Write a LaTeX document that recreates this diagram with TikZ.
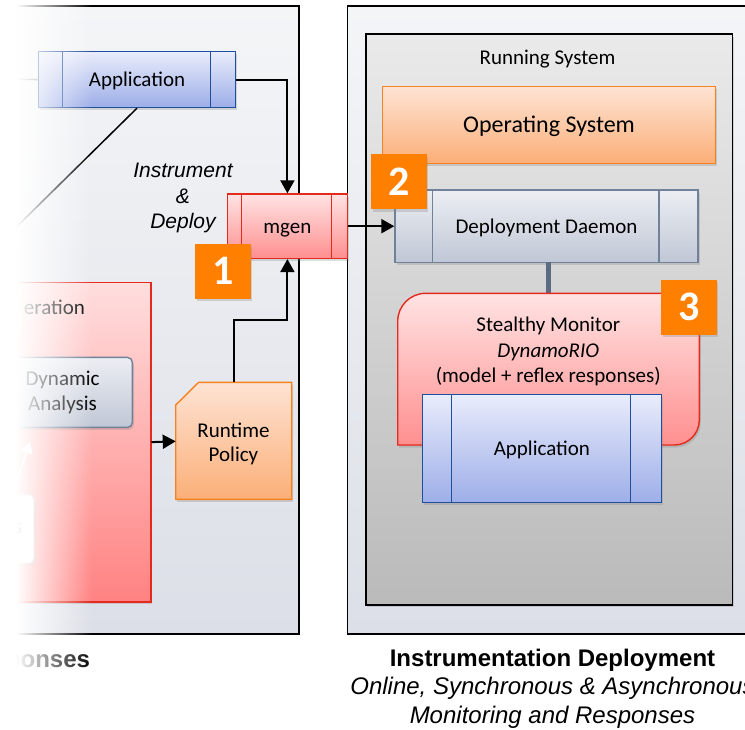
\documentclass[tikz,border=0pt]{standalone}
\usepackage{fontspec}
\setmainfont{Carlito}
\newfontfamily\arialfam{Liberation Sans}
\usetikzlibrary{arrows.meta,shadows,fadings,calc}

\definecolor{panelTop}{HTML}{F4F5F7}
\definecolor{panelBot}{HTML}{DCDFE7}
\definecolor{runTop}{HTML}{EAEAEA}
\definecolor{runBot}{HTML}{BABABA}
\definecolor{blueTop}{HTML}{E9ECFB}
\definecolor{blueBot}{HTML}{9DAEE8}
\definecolor{blueDraw}{HTML}{1F4E9E}
\definecolor{pinkTop}{HTML}{FFE3E3}
\definecolor{pinkBot}{HTML}{FF8F8F}
\definecolor{redDraw}{HTML}{E42A1C}
\definecolor{genTop}{HTML}{FFDEDE}
\definecolor{genBot}{HTML}{FF8282}
\definecolor{orangeTop}{HTML}{FDE3D3}
\definecolor{orangeBot}{HTML}{FBAF78}
\definecolor{orangeDraw}{HTML}{F5821F}
\definecolor{daemonTop}{HTML}{ECEEF3}
\definecolor{daemonBot}{HTML}{C0C7D5}
\definecolor{daemonDraw}{HTML}{72819A}
\definecolor{badgeOrange}{HTML}{FF8000}
\definecolor{linkGray}{HTML}{5B6B82}

\tikzfading[name=whiteleft, left color=transparent!0, right color=transparent!100]

\newcommand\bxfont{\fontsize{21}{25.5}\selectfont}

\begin{document}
\begin{tikzpicture}[x=1pt,y=-1pt,
  shadowed/.style={drop shadow={shadow xshift=1.5pt,shadow yshift=-2.5pt,opacity=0.28}},
  capmid/.style={text height=13.6pt,text depth=0pt},
  boxbase/.style={inner sep=0pt,anchor=north west,font=\bxfont,line width=1.4pt,shadowed},
  bluebox/.style={boxbase,capmid,draw=blueDraw,top color=blueTop,bottom color=blueBot},
  pinkbox/.style={boxbase,capmid,draw=redDraw,top color=pinkTop,bottom color=pinkBot},
  orangebox/.style={boxbase,draw=orangeDraw,top color=orangeTop,bottom color=orangeBot},
  daemonbox/.style={boxbase,capmid,draw=daemonDraw,top color=daemonTop,bottom color=daemonBot},
  panel/.style={draw=black,line width=1.5pt,top color=panelTop,bottom color=panelBot,inner sep=0pt,anchor=north west},
  badge/.style={fill=badgeOrange,text=white,font=\fontsize{42}{42}\selectfont\bfseries,
    minimum width=55.7pt,minimum height=55pt,inner sep=0pt,anchor=north west,shadowed},
  arr/.style={line width=2pt,-{Triangle[width=14pt,length=13pt]}},
  divblue/.style={draw=blueDraw,line width=1.4pt},
  divred/.style={draw=redDraw,line width=1.4pt},
  divgray/.style={draw=daemonDraw,line width=1.4pt}]
\useasboundingbox (0,0) rectangle (745,729);

% ---------- outer panels ----------
\node[panel,minimum width=338.3pt,minimum height=628.3pt] (leftpanel) at (-40,5) {};
\node[panel,minimum width=453.3pt,minimum height=628.3pt] (rightpanel) at (346.7,5) {};

% ---------- running system ----------
\node[draw=black,line width=1.6pt,top color=runTop,bottom color=runBot,inner sep=0pt,
      anchor=north west,minimum width=366.7pt,minimum height=570.7pt,shadowed] (runsys) at (365,33.3) {};
\node[font=\bxfont,capmid,inner sep=0pt] (runlabel) at (547.5,57.3) {Running System};

\node[orangebox,minimum width=333.3pt,minimum height=76.7pt,font=\fontsize{24}{28}\selectfont,
      text height=15.6pt,text depth=0pt] (os) at (381.7,86) {Operating System};

\node[daemonbox,minimum width=303pt,minimum height=72.4pt] (daemon) at (394.3,189.3) {Deployment Daemon};
\draw[divgray] ($(daemon.north west)+(38,0)$) -- ($(daemon.south west)+(38,0)$);
\draw[divgray] ($(daemon.north west)+(264.7,0)$) -- ($(daemon.south west)+(264.7,0)$);

% link between the daemon and the monitor
\coordinate (linktop) at (548.3,261.7);
\coordinate (linkbot) at (548.3,294);
\draw[linkGray,line width=5pt] (linktop) -- (linkbot);

% stealthy monitor (two rounded corners)
\path[draw=redDraw,line width=1.4pt,top color=pinkTop,bottom color=pinkBot,shadowed]
  (397.7,445) -- (397.7,321.3) .. controls (397.7,305.8) and (410.2,293.3) .. (425.7,293.3)
  -- (699.3,293.3) -- (699.3,420) .. controls (699.3,433.8) and (688.1,445) .. (674.3,445) -- cycle;
\node[font=\bxfont,align=center] (montext) at (548.3,351.5)
  {Stealthy Monitor\\\textit{DynamoRIO}\\(model + reflex responses)};

\node[bluebox,minimum width=239pt,minimum height=108pt] (appin) at (421.7,394) {Application};
\draw[divblue] ($(appin.north west)+(30,0)$) -- ($(appin.south west)+(30,0)$);
\draw[divblue] ($(appin.north west)+(209,0)$) -- ($(appin.south west)+(209,0)$);

% ---------- left side ----------
\node[boxbase,draw=redDraw,line width=1.5pt,top color=genTop,bottom color=genBot,
      minimum width=200pt,minimum height=319.3pt] (gen) at (-50,281.7) {};
\node[font=\bxfont,anchor=east] (gentext) at (88.5,307) {eration};

\node[boxbase,draw=daemonDraw,rounded corners=5pt,top color=daemonTop,bottom color=daemonBot,
      minimum width=139.7pt,minimum height=70pt,align=center] (dyn) at (-8,356.7) {Dynamic\\Analysis};

\node[boxbase,draw=gray!40,rounded corners=5pt,fill=white,minimum width=133.3pt,minimum height=68.7pt] (lowbox) at (-100,494) {};
\node[font=\bxfont,anchor=east] (lowtext) at (25.5,528) {s};
\coordinate (lowtip) at (30,442);
\coordinate (lowfoot) at (14,490);
\draw[white,line width=2pt,-{Triangle[width=12pt,length=11pt]}] (lowfoot) -- (lowtip);

% runtime policy (cut corner)
\path[draw=orangeDraw,line width=1.4pt,top color=orangeTop,bottom color=orangeBot,shadowed]
  (175.7,405) -- (198.7,382.3) -- (291.7,382.3) -- (291.7,499.3) -- (175.7,499.3) -- cycle;
\node[font=\fontsize{21}{24}\selectfont,align=center] (policy) at (233.5,443.5) {Runtime\\Policy};
\coordinate (poltop) at (233.7,382.3);
\coordinate (polwest) at (175.7,441.3);
\coordinate (polbend) at (233.7,320);

% application (source)
\node[bluebox,minimum width=197.3pt,minimum height=55.7pt] (apptop) at (37.7,51) {Application};
\draw[divblue] ($(apptop.north west)+(24.6,0)$) -- ($(apptop.south west)+(24.6,0)$);
\draw[divblue] ($(apptop.north west)+(173,0)$) -- ($(apptop.south west)+(173,0)$);
\coordinate (appleft) at (0,79);
\coordinate (diagend) at (-10,253);
\draw[gray,line width=1.5pt] (apptop.west) -- (appleft);
\draw[black,line width=1.5pt] (apptop.south) -- (diagend);

\node[font=\arialfam\itshape\fontsize{21}{25.5}\selectfont,align=center] (instr) at (183,198)
  {Instrument\\\&\\Deploy};

% mgen
\node[pinkbox,minimum width=120pt,minimum height=64.4pt] (mgen) at (226.7,193.3) {mgen};
\draw[divred] ($(mgen.north west)+(15,0)$) -- ($(mgen.south west)+(15,0)$);
\draw[divred] ($(mgen.north west)+(105,0)$) -- ($(mgen.south west)+(105,0)$);

% ---------- connectors ----------
\draw[arr] (apptop.east) -| (mgen.north);
\draw[arr] (poltop) -- (polbend) -| (mgen.south);
\draw[arr] (gen.east) -- (polwest);
\draw[arr] (mgen.east) -- (daemon.west);

% ---------- step badges ----------
\node[badge] (b1) at (195,243.3) {\raisebox{-2pt}{1}};
\node[badge] (b2) at (371,154) {\raisebox{-2pt}{2}};
\node[badge] (b3) at (661,279.3) {\raisebox{-2pt}{3}};

% ---------- captions ----------
\node[font=\arialfam\bfseries\fontsize{24}{28}\selectfont,anchor=base east] (capleft) at (93.5,667.5) {ponses};
\node[font=\arialfam\fontsize{24}{28.5}\selectfont,align=center] (capright) at (552.5,688.5)
  {\textbf{Instrumentation Deployment}\\\textit{Online, Synchronous \& Asynchronous}\\\textit{Monitoring and Responses}};

% ---------- left edge fade ----------
\fill[white] (-120,-10) rectangle (16,740);
\fill[white,path fading=whiteleft] (16,-10) rectangle (92,740);
\end{tikzpicture}
\end{document}
